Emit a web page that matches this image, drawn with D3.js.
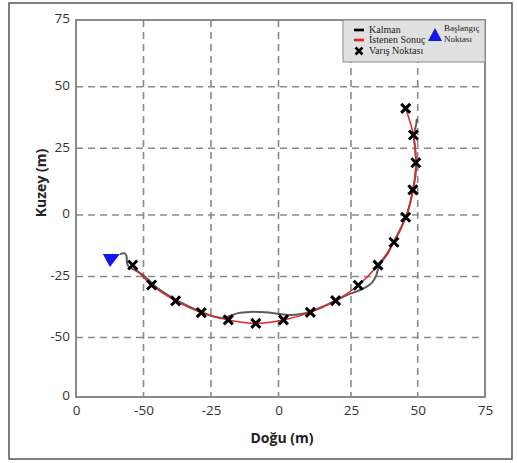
<!DOCTYPE html>
<html>
<head>
<meta charset="utf-8">
<script src="https://cdn.jsdelivr.net/npm/d3@7"></script>
<style>
  body { margin: 0; background: #fff; }
  svg { display: block; }
</style>
</head>
<body>
<div id="chart"></div>
<script>
"use strict"

// tick labels as printed on the figure (end labels are odd, kept as in the original)
const xTickValues = [-75, -50, -25, 0, 25, 50, 75];
const xTickLabels = ["0", "-50", "-25", "0", "25", "50", "75"];
const yTickValues = [75, 50, 25, 0, -25, -50, -75];
const yTickLabels = ["75", "50", "25", "0", "-25", "-50", "0"];
const gridValues = [-50, -25, 0, 25, 50];

// varış noktaları (waypoints), also the desired path
const waypointX = [-54.0, -47.0, -38.1, -28.6, -18.6, -8.4, 1.7, 11.0, 19.7, 27.7, 35.1, 41.1, 45.5, 48.2, 49.3, 48.4, 45.5];
const waypointY = [-20.3, -28.5, -35.0, -39.8, -42.8, -44.2, -42.8, -39.7, -34.9, -28.6, -20.4, -11.1, -0.9, 9.4, 19.6, 30.4, 41.2];

// kalman estimate
const kalmanX = [-58.7, -57.0, -56.3, -56.1, -55.4, -53.5, -51.3, -49.1, -46.9, -43.9, -38.0, -32.8, -28.7, -24.6, -20.9, -18.0, -15.0, -10.6, -5.0, 0.5, 4.7, 8.8, 11.2, 15.0, 19.8, 23.6, 26.9, 30.2, 32.8, 34.5, 35.5, 38.9, 40.7, 42.2, 43.7, 45.6, 47.1, 48.2, 49.2, 49.4, 49.0, 48.6, 49.4, 49.7];
const kalmanY = [-15.9, -15.6, -16.7, -19.5, -21.1, -22.2, -23.6, -25.4, -27.7, -30.5, -34.6, -37.5, -39.5, -41.2, -42.0, -41.2, -40.0, -39.5, -39.7, -40.4, -40.8, -40.2, -39.3, -37.5, -34.8, -32.6, -31.2, -29.6, -27.6, -24.4, -20.7, -15.4, -11.4, -8.5, -5.3, -0.8, 4.1, 9.4, 15.0, 19.9, 25.1, 30.4, 34.5, 36.9];

// başlangıç noktası
const startX = -61.9;
const startY = -17.7;

const width = 517;
const height = 463;
// the printed grid is slightly uneven, so the scales are piecewise
const xRange = [76, 143.5, 211, 278.5, 351, 417.7, 485];
const yRange = [397, 337.5, 276.5, 215, 148.3, 86.7, 20];
const plotLeft = xRange[0], plotRight = xRange[6], plotTop = yRange[6], plotBottom = yRange[0];

const svg = d3.select("#chart")
  .append("svg")
    .attr("width", width)
    .attr("height", height)
    .style("font-family", "'Open Sans', sans-serif");

// outer frame
svg.append("rect")
  .attr("x", 9).attr("y", 3)
  .attr("width", 503).attr("height", 456)
  .attr("fill", "none")
  .attr("stroke", "#555")
  .attr("stroke-width", 1.5);

let x = d3.scaleLinear().domain([-75, -50, -25, 0, 25, 50, 75]).range(xRange);
let y = d3.scaleLinear().domain([-75, -50, -25, 0, 25, 50, 75]).range(yRange);

// dashed grid
let grid = svg.append("g").attr("stroke", "#8a8a8a").attr("stroke-width", 1.6).attr("stroke-dasharray", "7,5");
grid.selectAll("line.v")
  .data(gridValues)
  .enter()
  .append("line")
    .attr("class", "v")
    .attr("x1", d => x(d)).attr("x2", d => x(d))
    .attr("y1", plotTop).attr("y2", plotBottom);
grid.selectAll("line.h")
  .data(gridValues)
  .enter()
  .append("line")
    .attr("class", "h")
    .attr("y1", d => y(d)).attr("y2", d => y(d))
    .attr("x1", plotLeft).attr("x2", plotRight);

// plot box
svg.append("rect")
  .attr("x", plotLeft).attr("y", plotTop)
  .attr("width", plotRight - plotLeft).attr("height", plotBottom - plotTop)
  .attr("fill", "none")
  .attr("stroke", "#8a8a8a")
  .attr("stroke-width", 2);

// axes (labels only)
let xAxis = svg.append("g")
  .attr("transform", `translate(0,${plotBottom})`)
  .call(d3.axisBottom(x).tickValues(xTickValues).tickSize(0).tickPadding(8)
    .tickFormat((d, i) => xTickLabels[i]));
let yAxis = svg.append("g")
  .attr("transform", `translate(${plotLeft - 6},0)`)
  .call(d3.axisLeft(y).tickValues(yTickValues).tickSize(0).tickPadding(0)
    .tickFormat((d, i) => yTickLabels[i]));
for (let ax of [xAxis, yAxis]) {
  ax.select(".domain").remove();
  ax.selectAll("text")
    .style("font-family", "'Open Sans', sans-serif")
    .style("font-size", "13.5px")
    .attr("fill", "#333");
}
yAxis.selectAll("text").attr("dy", "0.2em");

svg.append("text")
  .attr("x", 282).attr("y", 443)
  .attr("text-anchor", "middle")
  .style("font-size", "14px").style("font-weight", "bold")
  .attr("fill", "#222")
  .text("Doğu (m)");
svg.append("text")
  .attr("transform", "translate(46,183) rotate(-90)")
  .attr("text-anchor", "middle")
  .style("font-size", "14px").style("font-weight", "bold")
  .attr("fill", "#222")
  .text("Kuzey (m)");

// lines
let kalmanLine = d3.line()
  .x((d, i) => x(kalmanX[i]))
  .y((d, i) => y(kalmanY[i]))
  .curve(d3.curveCatmullRom);
svg.append("path")
  .attr("d", kalmanLine(kalmanX))
  .attr("fill", "none")
  .attr("stroke", "#4a4a4a")
  .attr("stroke-opacity", 0.9)
  .attr("stroke-width", 2);

let desiredLine = d3.line()
  .x((d, i) => x(waypointX[i]))
  .y((d, i) => y(waypointY[i]))
  .curve(d3.curveCatmullRom);
svg.append("path")
  .attr("d", desiredLine(waypointX))
  .attr("fill", "none")
  .attr("stroke", "#e0262b")
  .attr("stroke-width", 1.5);

// waypoint markers
const xMark = "M-4.5,-4.5L4.5,4.5M-4.5,4.5L4.5,-4.5";
svg.selectAll("path.wp")
  .data(waypointX)
  .enter()
  .append("path")
    .attr("class", "wp")
    .attr("transform", (d, i) => `translate(${x(d)},${y(waypointY[i])})`)
    .attr("d", xMark)
    .attr("stroke", "#000")
    .attr("stroke-width", 3);

// start triangle (pointing down)
svg.append("path")
  .attr("transform", `translate(${x(startX)},${y(startY)})`)
  .attr("d", "M-8.5,-4.5L8.5,-4.5L-1.5,8.5Z")
  .attr("fill", "#1515f0");

// legend
let legend = svg.append("g");
legend.append("rect")
  .attr("x", 343).attr("y", 20)
  .attr("width", 142).attr("height", 42)
  .attr("fill", "#e0e0e0")
  .attr("stroke", "#8a8a8a")
  .attr("stroke-width", 1);
legend.append("line")
  .attr("x1", 354).attr("x2", 364).attr("y1", 30).attr("y2", 30)
  .attr("stroke", "#000").attr("stroke-width", 2.7);
legend.append("line")
  .attr("x1", 354).attr("x2", 364).attr("y1", 40).attr("y2", 40)
  .attr("stroke", "#e0262b").attr("stroke-width", 2.7);
legend.append("path")
  .attr("transform", "translate(359,51)")
  .attr("d", "M-3.5,-3.5L3.5,3.5M-3.5,3.5L3.5,-3.5")
  .attr("stroke", "#000").attr("stroke-width", 2.6);
let legendText = [["Kalman", 369, 33], ["İstenen Sonuç", 369, 43], ["Varış Noktası", 369, 54],
  ["Başlangıç", 444, 31], ["Noktası", 444, 42]];
legend.selectAll("text")
  .data(legendText)
  .enter()
  .append("text")
    .attr("x", d => d[1]).attr("y", d => d[2])
    .attr("fill", "#222")
    .style("font-family", "'Liberation Serif', 'DejaVu Serif', serif")
    .style("font-size", (d, i) => i < 3 ? "10px" : "9px")
    .text(d => d[0]);
legend.append("path")
  .attr("d", "M428,41L442,41L435,28Z")
  .attr("fill", "#1515f0");
</script>
</body>
</html>
